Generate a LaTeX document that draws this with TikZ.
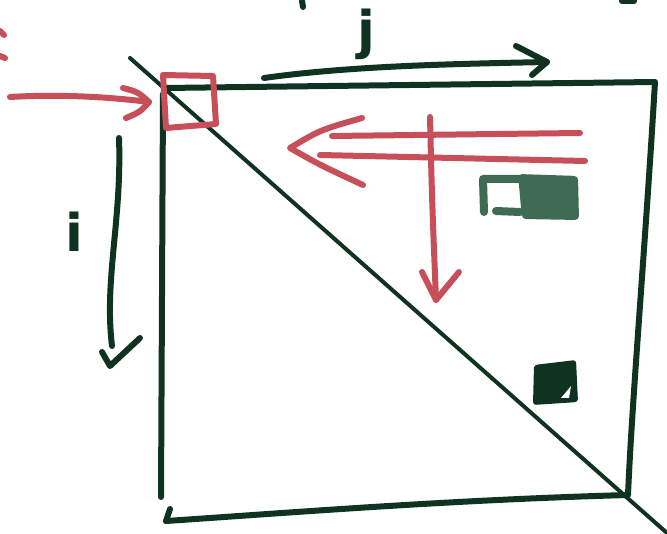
\documentclass[tikz,border=0pt]{standalone}
\usepackage{fontspec}
\setmainfont{DejaVu Sans}
\definecolor{ink}{HTML}{0F3320}
\definecolor{redink}{HTML}{C64F5A}
\definecolor{midgreen}{HTML}{3E6B52}
\begin{document}
\begin{tikzpicture}[x=1pt,y=-1pt,
  pen/.style={line width=6pt,line cap=round,line join=round},
  thinpen/.style={line width=4pt,line cap=round,line join=round},
  lbl/.style={inner sep=0pt,text=ink,font=\fontsize{52}{52}\selectfont\bfseries}]
\fill[white] (0,0) rectangle (667,534);
\useasboundingbox (0,0) rectangle (667,534);
% matrix square
\coordinate (tl) at (165,88);
\coordinate (tr) at (655,82);
\coordinate (br) at (628,495);
\coordinate (bl) at (166,521);
\draw[pen,ink] (tl) -- (tr) .. controls (645,250) and (632,400) .. (br)
  .. controls (450,500) and (300,512) .. (bl);
\draw[pen,ink] (bl) -- (170,509);
\draw[pen,ink] (163,94) -- (161,497);
% diagonal
\coordinate (d0) at (130,58);
\coordinate (d1) at (667,533);
\draw[thinpen,ink] (d0) -- (d1);
% red corner square
\draw[pen,redink] (163,75) -- (213,76) -- (216,124) -- (166,128) -- cycle;
% red arrow from left
\coordinate (ra0) at (10,97);
\coordinate (ra1) at (149,102);
\draw[pen,redink] (ra0) .. controls (60,94) and (110,97) .. (ra1);
\draw[pen,redink] (123,88) .. controls (138,92) .. (ra1) .. controls (140,112) .. (126,118);
\draw[pen,redink] (0,31) -- (4,35);
\draw[pen,redink] (0,56) -- (5,58);
% fragments at top
\draw[pen,ink] (302,1) -- (303,7);
\draw[pen,ink] (622,1) -- (634,1);
% j arrow
\coordinate (j0) at (264,78);
\coordinate (j1) at (547,62);
\draw[pen,ink] (j0) .. controls (350,66) and (450,64) .. (j1);
\draw[pen,ink] (516,46) -- (j1) -- (532,75);
\node[lbl] (jlab) at (366,34) {j};
% i arrow
\coordinate (i0) at (119,138);
\coordinate (i1) at (110,366);
\draw[pen,ink] (i0) .. controls (122,220) and (104,280) .. (112,346);
\draw[pen,ink] (102,352) -- (i1) -- (140,338);
\node[lbl] (ilab) at (74,232) {i};
% red double arrow
\coordinate (h0) at (290,148);
\draw[pen,redink] (580,133) -- (332,136);
\draw[pen,redink] (585,161) -- (320,155);
\draw[pen,redink] (362,118) .. controls (320,130) .. (h0) .. controls (320,165) .. (363,185);
% red down arrow
\coordinate (v0) at (430,117);
\coordinate (v1) at (436,300);
\draw[pen,redink] (v0) .. controls (432,200) .. (v1);
\draw[pen,redink] (422,272) -- (v1) -- (459,272);
% medium green block
\fill[midgreen,rounded corners=4pt] (518,174) -- (578,176) -- (579,220) -- (522,219) -- cycle;
\draw[line width=8pt,line cap=round,line join=round,midgreen] (520,179) -- (483,179) -- (484,212);
\draw[line width=8pt,line cap=round,midgreen] (496,211) -- (520,212);
% dark block on diagonal
\fill[ink,rounded corners=3pt] (534,365) -- (576,360) -- (578,402) -- (533,405) -- cycle;
\fill[white] (561,398) -- (571,386) -- (569,398) -- cycle;
\end{tikzpicture}
\end{document}
